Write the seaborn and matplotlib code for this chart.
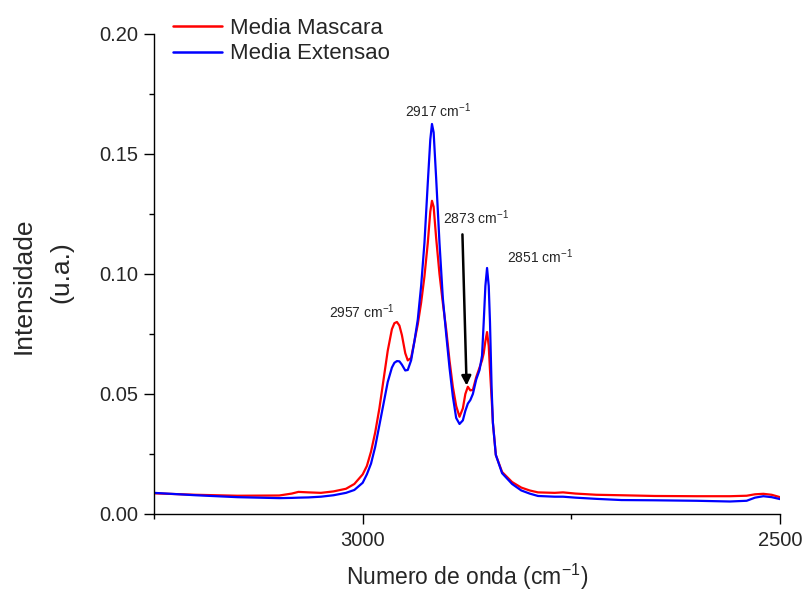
import numpy as np
import pandas as pd
import matplotlib
matplotlib.use("Agg")
import matplotlib.pyplot as plt
import seaborn as sns

# wavenumber (cm-1) and mean intensities
wavenumber = [3250, 3200, 3150, 3100, 3085, 3077, 3065, 3050, 3035, 3020, 3010,
              3000, 2995, 2990, 2985, 2980, 2975, 2970, 2965, 2962, 2959, 2956,
              2953, 2949, 2946, 2942, 2938, 2934, 2930, 2926, 2922, 2919, 2917,
              2915, 2912, 2908, 2904, 2900, 2896, 2892, 2888, 2884, 2880, 2877,
              2874, 2871, 2868, 2864, 2860, 2857, 2855, 2853, 2851, 2849, 2847.5,
              2845.5, 2844, 2840.5, 2833, 2821, 2810, 2800, 2790, 2770, 2760, 2745,
              2720, 2690, 2650, 2600, 2560, 2540, 2530, 2520, 2510, 2500]
media_mascara = [0.0086, 0.0080, 0.0076, 0.0077, 0.0085, 0.0092, 0.0090, 0.0088, 0.0094, 0.0105, 0.0125,
                 0.0165, 0.0200, 0.0260, 0.0340, 0.0440, 0.0560, 0.0680, 0.0770, 0.0795, 0.0800, 0.0785,
                 0.0745, 0.0670, 0.0640, 0.0650, 0.0720, 0.0790, 0.0880, 0.0990, 0.1130, 0.1260, 0.1305,
                 0.1280, 0.1150, 0.1000, 0.0880, 0.0770, 0.0640, 0.0530, 0.0450, 0.0405, 0.0440, 0.0500,
                 0.0530, 0.0515, 0.0517, 0.0570, 0.0610, 0.0640, 0.0670, 0.0720, 0.0758, 0.0700, 0.0600,
                 0.0480, 0.0380, 0.0246, 0.0175, 0.0133, 0.0110, 0.0098, 0.0090, 0.0088, 0.0090, 0.0085,
                 0.0080, 0.0078, 0.0075, 0.0074, 0.0074, 0.0076, 0.0082, 0.0084, 0.0080, 0.0070]
media_extensao = [0.0088, 0.0078, 0.0070, 0.0066, 0.0067, 0.0068, 0.0069, 0.0072, 0.0078, 0.0088, 0.0100,
                  0.0130, 0.0165, 0.0210, 0.0280, 0.0370, 0.0460, 0.0550, 0.0610, 0.0630, 0.0637, 0.0636,
                  0.0622, 0.0598, 0.0600, 0.0640, 0.0720, 0.0810, 0.0950, 0.1130, 0.1380, 0.1560, 0.1625,
                  0.1590, 0.1400, 0.1130, 0.0900, 0.0750, 0.0610, 0.0490, 0.0400, 0.0375, 0.0390, 0.0430,
                  0.0460, 0.0475, 0.0500, 0.0560, 0.0600, 0.0660, 0.0800, 0.0950, 0.1025, 0.0950, 0.0800,
                  0.0520, 0.0380, 0.0246, 0.0170, 0.0125, 0.0098, 0.0085, 0.0075, 0.0072, 0.0072, 0.0068,
                  0.0063, 0.0058, 0.0057, 0.0055, 0.0052, 0.0055, 0.0068, 0.0074, 0.0070, 0.0062]

series_names = ["Media Mascara", "Media Extensao"]
peak_labels = ["2957", "2917", "2873", "2851"]

sns.set_style("ticks")
plt.rcParams["font.family"] = ["Liberation Sans", "DejaVu Sans"]
plt.rcParams["mathtext.fontset"] = "custom"
plt.rcParams["mathtext.rm"] = "Liberation Sans"
plt.rcParams["mathtext.it"] = "Liberation Sans"
plt.rcParams["mathtext.default"] = "regular"

df = pd.DataFrame({
    "wn": wavenumber * 2,
    "I": media_mascara + media_extensao,
    "serie": [series_names[0]] * len(wavenumber) + [series_names[1]] * len(wavenumber),
})

fig = plt.figure(figsize=(8.03, 5.92), dpi=100)
ax = fig.add_axes([0.1918, 0.1318, 0.7796, 0.8108])
sns.lineplot(data=df, x="wn", y="I", hue="serie", palette=["#FF0000", "#0000FF"],
             linewidth=1.6, ax=ax, sort=False, estimator=None, legend=True)

ax.set_xlim(3250, 2500)
ax.set_ylim(0, 0.20)
ax.set_xticks([3000, 2500])
ax.set_xticks([3250, 2750], minor=True)
ax.set_yticks([0.00, 0.05, 0.10, 0.15, 0.20])
ax.set_yticks([0.025, 0.075, 0.125, 0.175], minor=True)
ax.yaxis.set_major_formatter(matplotlib.ticker.FormatStrFormatter("%.2f"))
sns.despine(ax=ax)
for s in ["left", "bottom"]:
    ax.spines[s].set_linewidth(1.0)
    ax.spines[s].set_color("black")
ax.tick_params(which="major", length=7, width=1.0, labelsize=14.5, color="black", direction="out")
ax.tick_params(which="minor", length=3.6, width=1.0, color="black", direction="out")
ax.tick_params(axis="x", pad=5)
ax.tick_params(axis="y", pad=4)

ax.set_xlabel("Numero de onda (cm$^{-1}$)", fontsize=16.5, labelpad=9)
ax.set_ylabel("")
fig.text(24 / 803, 1 - 286 / 592, "Intensidade", rotation=90, fontsize=19,
         ha="center", va="center")
fig.text(61 / 803, 1 - 272.5 / 592, "(u.a.)", rotation=90, fontsize=19,
         ha="center", va="center")

fsz = 10
ax.annotate(peak_labels[0] + " cm$^{-1}$", xy=(3001, 0.0842), fontsize=fsz, ha="center", va="center")
ax.annotate(peak_labels[1] + " cm$^{-1}$", xy=(2910, 0.1680), fontsize=fsz, ha="center", va="center")
ax.annotate(peak_labels[2] + " cm$^{-1}$", xy=(2864.5, 0.1233), fontsize=fsz, ha="center", va="center")
ax.annotate(peak_labels[3] + " cm$^{-1}$", xy=(2788, 0.1071), fontsize=fsz, ha="center", va="center")
ax.annotate("", xy=(2875.5, 0.0535), xytext=(2880.5, 0.1165),
            arrowprops=dict(arrowstyle="-|>", color="black", lw=1.8, mutation_scale=14,
                            shrinkA=0, shrinkB=0))

leg = ax.legend(loc="upper left", bbox_to_anchor=(0.2154, 0.970), bbox_transform=fig.transFigure,
                frameon=False, fontsize=16, handlelength=2.2, handletextpad=0.36,
                labelspacing=0.21, borderaxespad=0, borderpad=0)
for line in leg.get_lines():
    line.set_linewidth(1.8)

fig.savefig("out.png", dpi=100)
